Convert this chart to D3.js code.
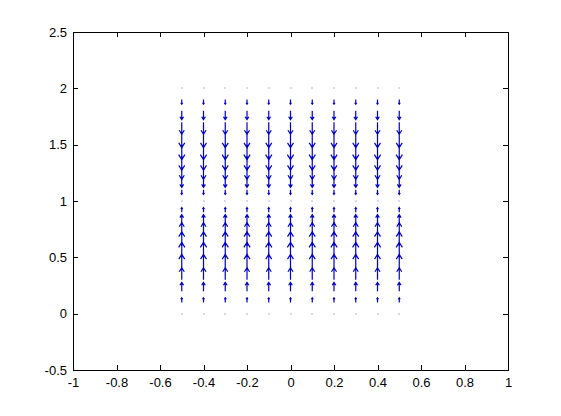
<!DOCTYPE html>
<html>
<head>
<meta charset="utf-8">
<script src="https://cdn.jsdelivr.net/npm/d3@7"></script>
<style>
  body { margin: 0; background: #fff; }
  text { font-family: Arial, "Liberation Sans", sans-serif; font-size: 13px; fill: #000; }
</style>
</head>
<body>
<svg id="chart"></svg>
<script>
// grid positions of the vector field
const xGrid = [-0.5, -0.4, -0.3, -0.2, -0.1, 0, 0.1, 0.2, 0.3, 0.4, 0.5];
const yGrid = [0, 0.1, 0.2, 0.3, 0.4, 0.5, 0.6, 0.7, 0.8, 0.9, 1,
               1.1, 1.2, 1.3, 1.4, 1.5, 1.6, 1.7, 1.8, 1.9, 2];
// vertical component per row (same for every column), horizontal is zero
const vRow = [0, 0.31, 0.59, 0.81, 0.95, 1, 0.95, 0.81, 0.59, 0.31, 0,
              -0.31, -0.59, -0.81, -0.95, -1, -0.95, -0.81, -0.59, -0.31, 0];
const uRow = vRow.map(() => 0);

const xTicks = [-1, -0.8, -0.6, -0.4, -0.2, 0, 0.2, 0.4, 0.6, 0.8, 1];
const yTicks = [-0.5, 0, 0.5, 1, 1.5, 2, 2.5];

const config = {
  containerWidth: 561,
  containerHeight: 416,
  margin: {top: 32, right: 53, bottom: 46, left: 73}
};
const width = config.containerWidth - config.margin.left - config.margin.right;
const height = config.containerHeight - config.margin.top - config.margin.bottom;

const svg = d3.select('#chart')
    .attr('width', config.containerWidth)
    .attr('height', config.containerHeight);

const chart = svg.append('g')
    .attr('transform', `translate(${config.margin.left},${config.margin.top})`);

const xScale = d3.scaleLinear().domain([-1, 1]).range([0, width]);
const yScale = d3.scaleLinear().domain([-0.5, 2.5]).range([height, 0]);

// build vectors
let vectors = [];
xGrid.forEach(x => {
  yGrid.forEach((y, i) => vectors.push({x: x, y: y, u: uRow[i], v: vRow[i]}));
});

// quiver-style autoscale
const n = Math.sqrt(vectors.length);
const delx = (d3.max(xGrid) - d3.min(xGrid)) / n;
const dely = (d3.max(yGrid) - d3.min(yGrid)) / n;
const del = delx * delx + dely * dely;
const maxlen = d3.max(vectors, d => Math.sqrt((d.u * d.u + d.v * d.v) / del));
const scale = 0.9 / maxlen;
const alpha = 0.33, beta = 0.33;

function arrowPath(d) {
  const u = d.u * scale, v = d.v * scale;
  const x1 = d.x + u, y1 = d.y + v;
  const shaft = `M${xScale(d.x)},${yScale(d.y)}L${xScale(x1)},${yScale(y1)}`;
  const hx1 = x1 - alpha * (u + beta * v), hy1 = y1 - alpha * (v - beta * u);
  const hx2 = x1 - alpha * (u - beta * v), hy2 = y1 - alpha * (v + beta * u);
  const head = `M${xScale(hx1)},${yScale(hy1)}L${xScale(x1)},${yScale(y1)}L${xScale(hx2)},${yScale(hy2)}`;
  return shaft + head;
}

const moving = vectors.filter(d => d.u !== 0 || d.v !== 0);
const still = vectors.filter(d => d.u === 0 && d.v === 0);

chart.selectAll('.arrow')
    .data(moving)
  .join('path')
    .attr('class', 'arrow')
    .attr('d', arrowPath)
    .attr('fill', 'none')
    .attr('stroke', '#0000c8')
    .attr('stroke-width', 1.2);

chart.selectAll('.dot')
    .data(still)
  .join('rect')
    .attr('class', 'dot')
    .attr('x', d => Math.round(xScale(d.x)) - 0.5)
    .attr('y', d => Math.round(yScale(d.y)) - 0.5)
    .attr('width', 1)
    .attr('height', 1)
    .attr('fill', '#000080')
    .attr('opacity', 0.6);

// axes (ticks pointing inward, box on)
const fmt = d => String(d);
const tick = 5;

chart.append('g')
    .attr('transform', `translate(0,${height})`)
    .call(d3.axisBottom(xScale).tickValues(xTicks).tickFormat(fmt)
      .tickSizeInner(-tick).tickSizeOuter(0).tickPadding(8));

chart.append('g')
    .call(d3.axisTop(xScale).tickValues(xTicks).tickFormat('')
      .tickSizeInner(-tick).tickSizeOuter(0));

chart.append('g')
    .call(d3.axisLeft(yScale).tickValues(yTicks).tickFormat(fmt)
      .tickSizeInner(-tick).tickSizeOuter(0).tickPadding(6));

chart.append('g')
    .attr('transform', `translate(${width},0)`)
    .call(d3.axisRight(yScale).tickValues(yTicks).tickFormat('')
      .tickSizeInner(-tick).tickSizeOuter(0));

chart.selectAll('.domain, .tick line').attr('stroke', '#000').attr('shape-rendering', 'crispEdges');
chart.selectAll('.tick text').style('font-size', '13px').style('font-family', 'Arial, "Liberation Sans", sans-serif');
</script>
</body>
</html>
